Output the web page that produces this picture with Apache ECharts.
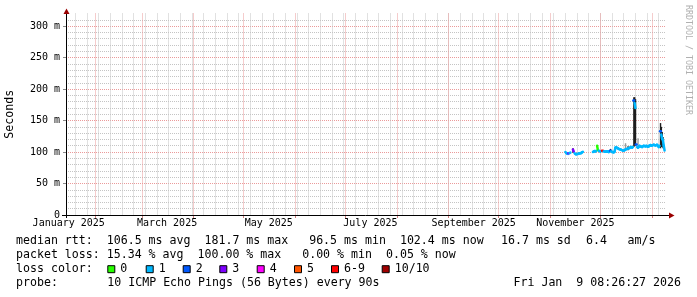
<!DOCTYPE html>
<html><head><meta charset="utf-8">
<script src="https://cdn.jsdelivr.net/npm/echarts@6/dist/echarts.min.js"></script>
<style>html,body{margin:0;padding:0;background:#fff}#c{width:697px;height:297px}</style>
</head><body><div id="c"></div>
<script>
// ---------------- data ----------------
const startTime = '2025-01-14T08:26:27Z';
const endTime = '2026-01-09T08:26:27Z';
const xLabelMonths = ['2025-01', '2025-03', '2025-05', '2025-07', '2025-09', '2025-11'];
const monthNames = ['January','February','March','April','May','June','July','August','September','October','November','December'];
const yTickValues = [0, 50, 100, 150, 200, 250, 300];
const yMax = 320;

const times = [
 '2025-11-10T00:00Z','2025-11-10T12:00Z','2025-11-11T00:00Z','2025-11-11T12:00Z','2025-11-12T00:00Z','2025-11-12T12:00Z','2025-11-13T00:00Z','2025-11-13T12:00Z',
 '2025-11-14T12:00Z','2025-11-15T00:00Z','2025-11-15T12:00Z','2025-11-16T00:00Z','2025-11-16T12:00Z','2025-11-17T00:00Z','2025-11-17T12:00Z','2025-11-18T00:00Z',
 '2025-11-18T12:00Z','2025-11-19T00:00Z','2025-11-19T12:00Z','2025-11-20T00:00Z','2025-11-20T12:00Z','2025-11-23T12:00Z',
 '2025-11-26T12:00Z','2025-11-27T00:00Z','2025-11-27T12:00Z','2025-11-28T00:00Z','2025-11-28T12:00Z','2025-11-29T00:00Z','2025-11-29T12:00Z','2025-11-30T00:00Z',
 '2025-11-30T12:00Z','2025-12-01T00:00Z','2025-12-01T12:00Z','2025-12-02T00:00Z','2025-12-02T12:00Z','2025-12-03T00:00Z','2025-12-03T12:00Z','2025-12-04T00:00Z',
 '2025-12-04T12:00Z','2025-12-05T00:00Z','2025-12-05T12:00Z','2025-12-06T00:00Z','2025-12-06T12:00Z','2025-12-07T00:00Z','2025-12-07T12:00Z','2025-12-08T00:00Z',
 '2025-12-08T12:00Z','2025-12-09T00:00Z','2025-12-09T12:00Z','2025-12-10T00:00Z','2025-12-10T12:00Z','2025-12-11T00:00Z','2025-12-11T12:00Z','2025-12-12T00:00Z',
 '2025-12-12T12:00Z','2025-12-13T00:00Z','2025-12-13T12:00Z','2025-12-14T00:00Z','2025-12-14T12:00Z','2025-12-15T00:00Z','2025-12-15T12:00Z','2025-12-16T00:00Z',
 '2025-12-16T12:00Z','2025-12-17T00:00Z','2025-12-17T12:00Z','2025-12-18T00:00Z','2025-12-18T12:00Z','2025-12-19T00:00Z','2025-12-19T12:00Z','2025-12-20T00:00Z',
 '2025-12-20T12:00Z','2025-12-21T00:00Z','2025-12-21T12:00Z','2025-12-22T00:00Z','2025-12-22T12:00Z','2025-12-23T00:00Z','2025-12-23T12:00Z','2025-12-24T00:00Z',
 '2025-12-24T12:00Z','2025-12-25T00:00Z','2025-12-25T12:00Z','2025-12-26T00:00Z','2025-12-26T12:00Z','2025-12-27T00:00Z','2025-12-27T12:00Z','2025-12-28T00:00Z',
 '2025-12-28T12:00Z','2025-12-29T00:00Z','2025-12-29T12:00Z','2025-12-30T00:00Z','2025-12-30T12:00Z','2025-12-31T00:00Z','2025-12-31T12:00Z','2026-01-01T00:00Z',
 '2026-01-01T12:00Z','2026-01-02T00:00Z','2026-01-02T12:00Z','2026-01-03T00:00Z','2026-01-03T12:00Z','2026-01-04T00:00Z','2026-01-04T12:00Z','2026-01-05T00:00Z',
 '2026-01-05T12:00Z','2026-01-06T00:00Z','2026-01-06T12:00Z','2026-01-07T00:00Z','2026-01-07T12:00Z','2026-01-08T00:00Z','2026-01-08T12:00Z'
];
const medianMs = [
 100, 98.5, 97.5, 97, 98, 98.5, 99, null,
 104, 101, 98, 97, 96.5, 97, 97, 97.5,
 98, 98, 98.5, 99.5, 100.5, null,
 100, 101, 101.5, 101, 102, 110, 103, 102,
 101.5, 101, 101.5, 102, 102, 101, 101, 100.5,
 101, 100.5, 101, 100, 101, 102, 101, 100,
 100, 99.5, 100.5, 107, 107.5, 106.5, 106, 105,
 104.5, 104, 103.5, 103, 102.5, 102.5, 103, 104,
 104.5, 105, 105.5, 106, 106.5, 107.5, 108, 107,
 108, 181.7, 178, 170, 112, 108, 107, 108,
 110, 109, 108.5, 108, 109, 110, 109.5, 109,
 110, 109, 108.5, 109, 110.5, 111, 110, 110.5,
 111, 111.5, 111, 110.5, 111, 111.5, 110, 108,
 110, 133, 128, 121, 119, 110, 102.4
];
const lossCount = [
 1, 1, 1, 1, 3, 1, 1, 10,
 3, 3, 1, 1, 1, 1, 1, 1,
 1, 1, 1, 1, 1, 10,
 1, 1, 1, 1, 1, 0, 0, 1,
 1, 1, 1, 7, 7, 1, 1, 1,
 1, 1, 1, 1, 1, 2, 1, 1,
 1, 1, 1, 1, 1, 1, 1, 1,
 1, 1, 1, 1, 1, 1, 1, 1,
 1, 1, 1, 1, 1, 1, 1, 1,
 1, 2, 1, 1, 2, 1, 1, 1,
 1, 1, 1, 1, 1, 1, 1, 1,
 1, 1, 1, 1, 1, 1, 1, 1,
 1, 1, 1, 1, 1, 1, 1, 1,
 1, 2, 1, 1, 1, 1, 1
];
// smoke (spread of the individual pings) where it shows around the median line
const smokeTimes = ['2025-11-14T12:00Z','2025-12-07T00:00Z','2025-12-17T12:00Z','2025-12-21T00:00Z','2025-12-21T12:00Z','2025-12-22T00:00Z','2026-01-06T00:00Z','2026-01-06T12:00Z','2026-01-07T00:00Z','2026-01-07T12:00Z'];
const smokeLo = [99, 100, 103, 108, 110, 110, 106, 108, 108, 106];
const smokeHi = [106, 105, 109, 187, 187, 184, 146, 140, 132, 124];
const faintTimes = ['2025-12-16T00:00Z', '2025-12-23T12:00Z'];
const faintLo = [104, 107];
const faintHi = [114, 122];

const lossLabels = ['0', '1', '2', '3', '4', '5', '6-9', '10/10'];
const lossColors = ['#26ff00', '#00b8ff', '#0059ff', '#7e00ff', '#ff00ff', '#ff5500', '#ff0000', '#a00000'];

const statRows = [
 ['median rtt:  106.5 ms avg  181.7 ms max   96.5 ms min  102.4 ms now', '16.7 ms sd', '6.4', 'am/s'],
 ['packet loss: 15.34 % avg  100.00 % max   0.00 % min  0.05 % now']
];
const lossRowLabel = 'loss color:';
const probeLabel = 'probe:';
const probeText = '10 ICMP Echo Pings (56 Bytes) every 90s';
const stampText = 'Fri Jan  9 08:26:27 2026';
const creditText = 'RRDTOOL / TOBI OETIKER';
const yAxisTitle = 'Seconds';

// ---------------- layout / style ----------------
const GL = 66, GT = 13.5, GW = 600, GH = 201.5, GB = GT + GH;
const FONT = 'DejaVu Sans Mono';
const LFONT = '11.6px "' + FONT + '"';
const GRID_MINOR = '#c4c4c4', GRID_MAJOR = '#eb9a9a', ARROW = '#990000';
const rowY = [240.8, 255, 269.2, 283.4];
const statX = [[16, 501, 586, 627.5], [16]];
const swatchX = [107.3, 145.7, 182.7, 219.3, 256.7, 294, 331, 381.7];

const tMin = Date.parse(startTime), tMax = Date.parse(endTime);
const T = times.map(s => Date.parse(s));
const DAY = 86400000;

function bucket(n) { return n <= 5 ? n : (n < 10 ? 6 : 7); }

// weekly (Mondays) and monthly grid positions
const weekTicks = [];
for (let t = Date.UTC(2025, 0, 20); t < tMax; t += 7 * DAY) weekTicks.push(t);
const monthTicks = [];
for (let m = 1; m <= 12; m++) { const t = Date.UTC(2025, m, 1); if (t < tMax) monthTicks.push(t); }
const labelTicks = xLabelMonths.map(s => { const [y, m] = s.split('-').map(Number); return Date.UTC(y, m - 1, 1) + 15 * DAY; });
const yMinor = []; for (let v = 0; v < yMax; v += 10) yMinor.push(v);

// median drawn like rrdtool: one line per loss bucket, unknown elsewhere
const HALF = (T[1] - T[0]) / 2;
const medData = [];
function same(i, j) { return j >= 0 && j < T.length && medianMs[j] != null && bucket(lossCount[j]) === bucket(lossCount[i]); }
for (let i = 0; i < T.length; i++) {
  if (medianMs[i] == null) continue;
  if (same(i, i + 1)) medData.push([T[i], medianMs[i], T[i + 1], medianMs[i + 1], lossCount[i]]);
  if (!same(i, i - 1) && !same(i, i + 1)) medData.push([T[i] - HALF * 0.9, medianMs[i], T[i] + HALF * 0.9, medianMs[i], lossCount[i]]);
}
const smokeData = smokeTimes.map((s, i) => [Date.parse(s), smokeLo[i], smokeHi[i]]);
const faintData = faintTimes.map((s, i) => [Date.parse(s), faintLo[i], faintHi[i]]);

function smokeRender(color) {
  return function (params, api) {
    const t = api.value(0);
    const a = api.coord([t - HALF * 1.4, api.value(2)]);
    const b = api.coord([t + HALF * 1.4, api.value(1)]);
    const w = Math.max(1.4, b[0] - a[0]);
    return { type: 'rect', shape: { x: a[0], y: a[1], width: w, height: b[1] - a[1] }, style: { fill: color } };
  };
}

const chart = echarts.init(document.getElementById('c'), null, { renderer: 'canvas' });

const graphics = [];
graphics.push({ type: 'line', shape: { x1: GL - 4, y1: GB + 0.5, x2: GL + GW + 3, y2: GB + 0.5 }, style: { stroke: '#000', lineWidth: 1 }, z: 50 });
graphics.push({ type: 'line', shape: { x1: GL + 0.5, y1: GB + 3, x2: GL + 0.5, y2: GT }, style: { stroke: '#000', lineWidth: 1 }, z: 50 });
graphics.push({ type: 'polygon', shape: { points: [[GL - 2.5, GT + 0.5], [GL + 3.5, GT + 0.5], [GL + 0.5, GT - 5]] }, style: { fill: ARROW }, z: 51 });
graphics.push({ type: 'polygon', shape: { points: [[GL + GW + 3, GB - 2.5], [GL + GW + 3, GB + 3.5], [GL + GW + 8.5, GB + 0.5]] }, style: { fill: ARROW }, z: 51 });
graphics.push({ type: 'text', x: 10, y: GT + GH / 2, rotation: Math.PI / 2, style: { text: yAxisTitle, font: LFONT, fill: '#000', align: 'center', verticalAlign: 'middle' } });
graphics.push({ type: 'text', x: 688, y: 5, rotation: -Math.PI / 2, style: { text: creditText, font: '8.3px "' + FONT + '"', fill: '#b0b0b0', align: 'left', verticalAlign: 'middle' } });
statRows.forEach((row, r) => row.forEach((txt, k) => graphics.push({ type: 'text', x: statX[r][k], y: rowY[r], style: { text: txt, font: LFONT, fill: '#000', align: 'left', verticalAlign: 'middle' } })));
graphics.push({ type: 'text', x: 16, y: rowY[2], style: { text: lossRowLabel, font: LFONT, fill: '#000', align: 'left', verticalAlign: 'middle' } });
lossLabels.forEach((lab, k) => {
  graphics.push({ type: 'rect', shape: { x: swatchX[k] + 0.5, y: rowY[2] - 3.5, width: 7, height: 7 }, style: { fill: lossColors[k], stroke: '#000', lineWidth: 1 } });
  graphics.push({ type: 'text', x: swatchX[k] + 13, y: rowY[2], style: { text: lab, font: LFONT, fill: '#000', align: 'left', verticalAlign: 'middle' } });
});
graphics.push({ type: 'text', x: 16, y: rowY[3], style: { text: probeLabel, font: LFONT, fill: '#000', align: 'left', verticalAlign: 'middle' } });
graphics.push({ type: 'text', x: 107.3, y: rowY[3], style: { text: probeText, font: LFONT, fill: '#000', align: 'left', verticalAlign: 'middle' } });
graphics.push({ type: 'text', x: 681, y: rowY[3], style: { text: stampText, font: LFONT, fill: '#000', align: 'right', verticalAlign: 'middle' } });

const dotted = [1, 1];
chart.setOption({
  animation: false,
  backgroundColor: '#ffffff',
  grid: { left: GL, top: GT, width: GW, height: GH, containLabel: false, outerBoundsMode: 'none' },
  xAxis: [
    { type: 'value', min: tMin, max: tMax, position: 'bottom',
      axisLine: { show: false }, axisLabel: { show: false },
      axisTick: { show: false, customValues: weekTicks },
      splitLine: { show: true, lineStyle: { color: GRID_MINOR, type: dotted, width: 1 } } },
    { type: 'value', min: tMin, max: tMax, position: 'bottom',
      axisLine: { show: false },
      axisTick: { show: true, length: 3, inside: false, customValues: monthTicks, lineStyle: { color: '#d08080' } },
      axisLabel: { show: true, customValues: labelTicks, margin: 3, color: '#000', fontFamily: FONT, fontSize: 10,
        formatter: v => { const d = new Date(v); return monthNames[d.getUTCMonth()] + ' ' + d.getUTCFullYear(); } },
      splitLine: { show: true, lineStyle: { color: GRID_MAJOR, type: dotted, width: 1 } } }
  ],
  yAxis: [
    { type: 'value', min: 0, max: yMax, position: 'left',
      axisLine: { show: false }, axisLabel: { show: false },
      axisTick: { show: false, customValues: yMinor },
      splitLine: { show: true, lineStyle: { color: GRID_MINOR, type: dotted, width: 1 } } },
    { type: 'value', min: 0, max: yMax, position: 'left',
      axisLine: { show: false },
      axisTick: { show: true, length: 3, customValues: yTickValues, lineStyle: { color: '#888' } },
      axisLabel: { show: true, customValues: yTickValues, margin: 6, color: '#000', fontFamily: FONT, fontSize: 10,
        formatter: v => v === 0 ? '0' : v + ' m' },
      splitLine: { show: true, lineStyle: { color: GRID_MAJOR, type: dotted, width: 1 } } }
  ],
  series: [
    { type: 'custom', name: 'faint', xAxisIndex: 0, yAxisIndex: 0, data: faintData, encode: { x: 0, y: [1, 2] }, renderItem: smokeRender('#9a9a9a'), z: 3, silent: true },
    { type: 'custom', name: 'smoke', xAxisIndex: 0, yAxisIndex: 0, data: smokeData, encode: { x: 0, y: [1, 2] }, renderItem: smokeRender('#1e1e1e'), z: 4, silent: true },
    { type: 'custom', name: 'median', xAxisIndex: 0, yAxisIndex: 0, data: medData, encode: { x: [0, 2], y: [1, 3] }, z: 5, silent: true,
      renderItem: function (params, api) {
        const p0 = api.coord([api.value(0), api.value(1)]);
        const p1 = api.coord([api.value(2), api.value(3)]);
        return { type: 'line', shape: { x1: p0[0], y1: p0[1], x2: p1[0], y2: p1[1] }, style: { stroke: lossColors[bucket(api.value(4))], lineWidth: 2.5, lineCap: 'round' } };
      } }
  ],
  graphic: graphics
});
</script>
</body></html>
